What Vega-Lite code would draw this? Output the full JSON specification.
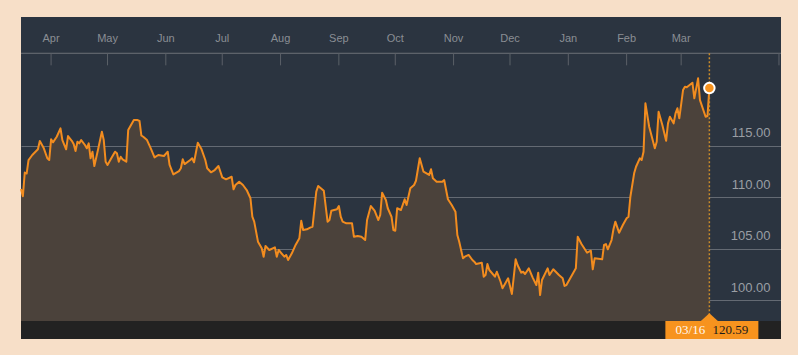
{
  "$schema": "https://vega.github.io/schema/vega-lite/v6.json",
  "width": 760,
  "height": 322,
  "autosize": {"type": "none"},
  "padding": {"left": 21, "top": 17, "right": 17, "bottom": 16},
  "background": "#f7dfc8",
  "config": {
    "view": {"fill": "#2b3440", "stroke": null},
    "axisY": {
      "orient": "right", "format": ".2f", "title": null,
      "domain": false, "ticks": false, "grid": true,
      "gridColor": "#ffffff", "gridOpacity": 0.27, "gridWidth": 1,
      "labelAlign": "right", "labelBaseline": "middle", "labelPadding": -11, "labelOffset": -13,
      "labelColor": "#9a9ea4", "labelFont": "Liberation Sans", "labelFontSize": 13, "zindex": 1
    }
  },
  "datasets": {
    "prices": [
      {"date": "2015-03-16", "price": 110.8},
      {"date": "2015-03-17", "price": 110.1},
      {"date": "2015-03-18", "price": 112.4},
      {"date": "2015-03-19", "price": 112.3},
      {"date": "2015-03-20", "price": 113.6},
      {"date": "2015-03-22", "price": 114.1},
      {"date": "2015-03-25", "price": 114.65},
      {"date": "2015-03-26", "price": 115.46},
      {"date": "2015-03-28", "price": 114.81},
      {"date": "2015-03-30", "price": 113.78},
      {"date": "2015-03-31", "price": 113.61},
      {"date": "2015-04-01", "price": 115.62},
      {"date": "2015-04-02", "price": 115.33},
      {"date": "2015-04-04", "price": 115.87},
      {"date": "2015-04-06", "price": 116.69},
      {"date": "2015-04-07", "price": 115.55},
      {"date": "2015-04-09", "price": 114.65},
      {"date": "2015-04-10", "price": 115.94},
      {"date": "2015-04-12", "price": 115.48},
      {"date": "2015-04-13", "price": 115.16},
      {"date": "2015-04-14", "price": 114.49},
      {"date": "2015-04-15", "price": 115.39},
      {"date": "2015-04-16", "price": 115.23},
      {"date": "2015-04-17", "price": 115.55},
      {"date": "2015-04-19", "price": 115.07},
      {"date": "2015-04-20", "price": 114.75},
      {"date": "2015-04-21", "price": 115.23},
      {"date": "2015-04-22", "price": 113.78},
      {"date": "2015-04-23", "price": 114.42},
      {"date": "2015-04-24", "price": 113.03},
      {"date": "2015-04-26", "price": 114.65},
      {"date": "2015-04-28", "price": 116.36},
      {"date": "2015-04-29", "price": 115.55},
      {"date": "2015-04-30", "price": 113.45},
      {"date": "2015-05-01", "price": 113.13},
      {"date": "2015-05-03", "price": 113.78},
      {"date": "2015-05-05", "price": 114.42},
      {"date": "2015-05-06", "price": 114.26},
      {"date": "2015-05-07", "price": 113.45},
      {"date": "2015-05-08", "price": 113.93},
      {"date": "2015-05-09", "price": 113.68},
      {"date": "2015-05-11", "price": 113.45},
      {"date": "2015-05-12", "price": 116.52},
      {"date": "2015-05-15", "price": 117.49},
      {"date": "2015-05-17", "price": 117.49},
      {"date": "2015-05-18", "price": 117.4},
      {"date": "2015-05-19", "price": 115.99},
      {"date": "2015-05-20", "price": 115.87},
      {"date": "2015-05-22", "price": 115.55},
      {"date": "2015-05-24", "price": 114.75},
      {"date": "2015-05-26", "price": 113.87},
      {"date": "2015-05-28", "price": 114.1},
      {"date": "2015-05-31", "price": 114.0},
      {"date": "2015-06-02", "price": 114.42},
      {"date": "2015-06-03", "price": 113.13},
      {"date": "2015-06-05", "price": 112.22},
      {"date": "2015-06-08", "price": 112.54},
      {"date": "2015-06-09", "price": 112.81},
      {"date": "2015-06-10", "price": 113.68},
      {"date": "2015-06-11", "price": 113.22},
      {"date": "2015-06-14", "price": 113.61},
      {"date": "2015-06-15", "price": 113.78},
      {"date": "2015-06-16", "price": 113.39},
      {"date": "2015-06-18", "price": 115.29},
      {"date": "2015-06-20", "price": 114.65},
      {"date": "2015-06-22", "price": 113.61},
      {"date": "2015-06-23", "price": 112.81},
      {"date": "2015-06-25", "price": 112.42},
      {"date": "2015-06-27", "price": 112.64},
      {"date": "2015-06-29", "price": 113.03},
      {"date": "2015-07-01", "price": 111.93},
      {"date": "2015-07-03", "price": 111.74},
      {"date": "2015-07-06", "price": 111.99},
      {"date": "2015-07-07", "price": 110.77},
      {"date": "2015-07-08", "price": 111.19},
      {"date": "2015-07-10", "price": 111.51},
      {"date": "2015-07-12", "price": 111.19},
      {"date": "2015-07-14", "price": 110.7},
      {"date": "2015-07-16", "price": 109.9},
      {"date": "2015-07-17", "price": 108.11},
      {"date": "2015-07-18", "price": 107.63},
      {"date": "2015-07-20", "price": 105.69},
      {"date": "2015-07-22", "price": 105.05},
      {"date": "2015-07-23", "price": 104.23},
      {"date": "2015-07-24", "price": 105.27},
      {"date": "2015-07-26", "price": 104.88},
      {"date": "2015-07-29", "price": 105.14},
      {"date": "2015-07-30", "price": 104.23},
      {"date": "2015-07-31", "price": 104.88},
      {"date": "2015-08-03", "price": 104.23},
      {"date": "2015-08-04", "price": 104.4},
      {"date": "2015-08-05", "price": 103.91},
      {"date": "2015-08-07", "price": 104.56},
      {"date": "2015-08-09", "price": 105.37},
      {"date": "2015-08-11", "price": 106.02},
      {"date": "2015-08-12", "price": 107.72},
      {"date": "2015-08-13", "price": 106.82},
      {"date": "2015-08-15", "price": 106.89},
      {"date": "2015-08-17", "price": 107.08},
      {"date": "2015-08-18", "price": 107.14},
      {"date": "2015-08-20", "price": 110.54},
      {"date": "2015-08-21", "price": 111.09},
      {"date": "2015-08-24", "price": 110.63},
      {"date": "2015-08-26", "price": 107.63},
      {"date": "2015-08-27", "price": 107.79},
      {"date": "2015-08-28", "price": 108.69},
      {"date": "2015-08-31", "price": 108.83},
      {"date": "2015-09-01", "price": 109.15},
      {"date": "2015-09-02", "price": 108.11},
      {"date": "2015-09-03", "price": 107.63},
      {"date": "2015-09-05", "price": 107.47},
      {"date": "2015-09-08", "price": 107.47},
      {"date": "2015-09-09", "price": 106.17},
      {"date": "2015-09-11", "price": 106.24},
      {"date": "2015-09-13", "price": 106.17},
      {"date": "2015-09-15", "price": 105.85},
      {"date": "2015-09-16", "price": 107.79},
      {"date": "2015-09-18", "price": 109.15},
      {"date": "2015-09-20", "price": 108.7},
      {"date": "2015-09-22", "price": 107.79},
      {"date": "2015-09-23", "price": 108.28},
      {"date": "2015-09-24", "price": 110.44},
      {"date": "2015-09-26", "price": 109.73},
      {"date": "2015-09-27", "price": 108.93},
      {"date": "2015-09-29", "price": 108.11},
      {"date": "2015-09-30", "price": 106.82},
      {"date": "2015-10-01", "price": 106.75},
      {"date": "2015-10-02", "price": 108.93},
      {"date": "2015-10-04", "price": 108.76},
      {"date": "2015-10-06", "price": 109.8},
      {"date": "2015-10-07", "price": 109.25},
      {"date": "2015-10-09", "price": 110.87},
      {"date": "2015-10-11", "price": 111.19},
      {"date": "2015-10-12", "price": 111.6},
      {"date": "2015-10-14", "price": 113.78},
      {"date": "2015-10-15", "price": 113.13},
      {"date": "2015-10-16", "price": 112.48},
      {"date": "2015-10-19", "price": 112.16},
      {"date": "2015-10-20", "price": 112.71},
      {"date": "2015-10-21", "price": 111.84},
      {"date": "2015-10-23", "price": 111.51},
      {"date": "2015-10-26", "price": 111.51},
      {"date": "2015-10-27", "price": 111.67},
      {"date": "2015-10-29", "price": 109.8},
      {"date": "2015-10-31", "price": 109.25},
      {"date": "2015-11-02", "price": 108.6},
      {"date": "2015-11-03", "price": 106.34},
      {"date": "2015-11-04", "price": 105.69},
      {"date": "2015-11-06", "price": 104.07},
      {"date": "2015-11-07", "price": 104.23},
      {"date": "2015-11-09", "price": 104.4},
      {"date": "2015-11-11", "price": 103.91},
      {"date": "2015-11-12", "price": 103.75},
      {"date": "2015-11-13", "price": 103.52},
      {"date": "2015-11-16", "price": 103.65},
      {"date": "2015-11-17", "price": 102.29},
      {"date": "2015-11-18", "price": 102.45},
      {"date": "2015-11-19", "price": 103.52},
      {"date": "2015-11-20", "price": 102.94},
      {"date": "2015-11-23", "price": 102.29},
      {"date": "2015-11-24", "price": 102.77},
      {"date": "2015-11-26", "price": 101.8},
      {"date": "2015-11-27", "price": 101.16},
      {"date": "2015-11-28", "price": 101.48},
      {"date": "2015-11-30", "price": 102.13},
      {"date": "2015-12-02", "price": 100.61},
      {"date": "2015-12-04", "price": 103.98},
      {"date": "2015-12-05", "price": 103.42},
      {"date": "2015-12-07", "price": 102.68},
      {"date": "2015-12-08", "price": 102.77},
      {"date": "2015-12-09", "price": 102.55},
      {"date": "2015-12-11", "price": 103.1},
      {"date": "2015-12-13", "price": 102.23},
      {"date": "2015-12-15", "price": 101.48},
      {"date": "2015-12-16", "price": 102.68},
      {"date": "2015-12-17", "price": 100.51},
      {"date": "2015-12-18", "price": 101.97},
      {"date": "2015-12-21", "price": 103.1},
      {"date": "2015-12-22", "price": 102.45},
      {"date": "2015-12-24", "price": 103.01},
      {"date": "2015-12-27", "price": 102.45},
      {"date": "2015-12-29", "price": 102.13},
      {"date": "2015-12-30", "price": 101.39},
      {"date": "2015-12-31", "price": 101.48},
      {"date": "2016-01-05", "price": 103.1},
      {"date": "2016-01-06", "price": 106.17},
      {"date": "2016-01-08", "price": 105.46},
      {"date": "2016-01-11", "price": 104.62},
      {"date": "2016-01-13", "price": 104.81},
      {"date": "2016-01-14", "price": 103.01},
      {"date": "2016-01-15", "price": 104.07},
      {"date": "2016-01-19", "price": 103.98},
      {"date": "2016-01-20", "price": 105.37},
      {"date": "2016-01-21", "price": 105.46},
      {"date": "2016-01-22", "price": 104.95},
      {"date": "2016-01-24", "price": 105.85},
      {"date": "2016-01-25", "price": 106.89},
      {"date": "2016-01-26", "price": 107.63},
      {"date": "2016-01-28", "price": 106.56},
      {"date": "2016-01-30", "price": 107.31},
      {"date": "2016-02-01", "price": 107.96},
      {"date": "2016-02-02", "price": 108.11},
      {"date": "2016-02-03", "price": 110.05},
      {"date": "2016-02-05", "price": 112.32},
      {"date": "2016-02-06", "price": 112.96},
      {"date": "2016-02-08", "price": 113.78},
      {"date": "2016-02-09", "price": 113.61},
      {"date": "2016-02-10", "price": 114.42},
      {"date": "2016-02-11", "price": 119.11},
      {"date": "2016-02-13", "price": 116.84},
      {"date": "2016-02-16", "price": 114.75},
      {"date": "2016-02-17", "price": 115.39},
      {"date": "2016-02-18", "price": 118.3},
      {"date": "2016-02-20", "price": 117.01},
      {"date": "2016-02-22", "price": 115.48},
      {"date": "2016-02-23", "price": 117.17},
      {"date": "2016-02-24", "price": 117.81},
      {"date": "2016-02-26", "price": 117.17},
      {"date": "2016-02-27", "price": 118.14},
      {"date": "2016-02-28", "price": 118.63},
      {"date": "2016-02-29", "price": 117.66},
      {"date": "2016-03-02", "price": 120.4},
      {"date": "2016-03-03", "price": 120.72},
      {"date": "2016-03-04", "price": 120.67},
      {"date": "2016-03-07", "price": 121.11},
      {"date": "2016-03-08", "price": 119.6},
      {"date": "2016-03-10", "price": 121.54},
      {"date": "2016-03-11", "price": 119.43},
      {"date": "2016-03-14", "price": 117.81},
      {"date": "2016-03-15", "price": 117.88},
      {"date": "2016-03-16", "price": 120.59}
    ],
    "months": [
      {"date": "2015-04-01", "label": "Apr"},
      {"date": "2015-05-01", "label": "May"},
      {"date": "2015-06-01", "label": "Jun"},
      {"date": "2015-07-01", "label": "Jul"},
      {"date": "2015-08-01", "label": "Aug"},
      {"date": "2015-09-01", "label": "Sep"},
      {"date": "2015-10-01", "label": "Oct"},
      {"date": "2015-11-01", "label": "Nov"},
      {"date": "2015-12-01", "label": "Dec"},
      {"date": "2016-01-01", "label": "Jan"},
      {"date": "2016-02-01", "label": "Feb"},
      {"date": "2016-03-01", "label": "Mar"},
      {"date": "2016-04-22", "label": ""}
    ],
    "last": [
      {"date": "2016-03-16", "price": 120.59, "day": "03/16", "value": "120.59"}
    ]
  },
  "layer": [
    {
      "data": {"name": "prices"},
      "mark": {"type": "area", "color": "#4b423b", "opacity": 1},
      "encoding": {
        "x": {
          "field": "date", "type": "temporal", "axis": null,
          "scale": {"domain": [{"year": 2015, "month": 3, "date": 16, "utc": true}, {"year": 2016, "month": 4, "date": 23, "hours": 2, "utc": true}]}
        },
        "y": {
          "field": "price", "type": "quantitative", "title": null,
          "scale": {"domain": [96.245, 127.49], "nice": false, "zero": false},
          "axis": {"values": [100, 105, 110, 115], "format": ".2f", "title": null}
        },
        "y2": {"datum": 98}
      }
    },
    {
      "data": {"values": [{}]},
      "mark": {"type": "rule", "color": "#6c7077", "strokeWidth": 1},
      "encoding": {
        "y": {"datum": 123.97, "type": "quantitative"}
      }
    },
    {
      "data": {"name": "months"},
      "mark": {"type": "rule", "color": "#5b6067", "strokeWidth": 1},
      "encoding": {
        "x": {"field": "date", "type": "temporal", "axis": null},
        "y": {"datum": 123.97, "type": "quantitative"},
        "y2": {"datum": 122.8}
      }
    },
    {
      "data": {"name": "months"},
      "mark": {"type": "text", "color": "#8a8e94", "font": "Liberation Sans", "fontSize": 11, "align": "center", "baseline": "middle"},
      "encoding": {
        "x": {"field": "date", "type": "temporal", "axis": null},
        "y": {"datum": 125.36, "type": "quantitative"},
        "text": {"field": "label"}
      }
    },
    {
      "data": {"name": "prices"},
      "mark": {"type": "line", "color": "#f28c1f", "strokeWidth": 2, "strokeJoin": "round"},
      "encoding": {
        "x": {"field": "date", "type": "temporal", "axis": null},
        "y": {"field": "price", "type": "quantitative"}
      }
    },
    {
      "data": {"values": [{}]},
      "mark": {"type": "rect", "color": "#222222"},
      "encoding": {
        "y": {"datum": 96.245, "type": "quantitative"},
        "y2": {"datum": 98}
      }
    },
    {
      "data": {"name": "last"},
      "mark": {"type": "rule", "color": "#c98a2a", "strokeWidth": 1.5, "strokeDash": [2, 2]},
      "encoding": {
        "x": {"field": "date", "type": "temporal", "axis": null},
        "y": {"datum": 123.97, "type": "quantitative"},
        "y2": {"datum": 98}
      }
    },
    {
      "data": {"name": "last"},
      "mark": {"type": "point", "shape": "M-1,0L0,-0.9L1,0Z", "filled": true, "fill": "#f7931e", "stroke": null, "size": 289, "opacity": 1},
      "encoding": {
        "x": {"field": "date", "type": "temporal", "axis": null},
        "y": {"datum": 98, "type": "quantitative"}
      }
    },
    {
      "data": {"name": "last"},
      "mark": {"type": "rect", "color": "#f7931e", "xOffset": -44, "x2Offset": 49},
      "encoding": {
        "x": {"field": "date", "type": "temporal", "axis": null},
        "x2": {"field": "date"},
        "y": {"datum": 96.245, "type": "quantitative"},
        "y2": {"datum": 98}
      }
    },
    {
      "data": {"name": "last"},
      "mark": {"type": "text", "color": "#fff8ef", "font": "Liberation Serif", "fontSize": 13, "align": "center", "baseline": "middle", "dx": -19},
      "encoding": {
        "x": {"field": "date", "type": "temporal", "axis": null},
        "y": {"datum": 97.12, "type": "quantitative"},
        "text": {"field": "day"}
      }
    },
    {
      "data": {"name": "last"},
      "mark": {"type": "text", "color": "#1b1b1b", "font": "Liberation Serif", "fontSize": 13, "align": "center", "baseline": "middle", "dx": 21},
      "encoding": {
        "x": {"field": "date", "type": "temporal", "axis": null},
        "y": {"datum": 97.12, "type": "quantitative"},
        "text": {"field": "value"}
      }
    },
    {
      "data": {"name": "last"},
      "mark": {"type": "point", "shape": "circle", "filled": true, "fill": "#f7931e", "stroke": "#ffffff", "strokeWidth": 2, "size": 110, "opacity": 1},
      "encoding": {
        "x": {"field": "date", "type": "temporal", "axis": null},
        "y": {"field": "price", "type": "quantitative"}
      }
    }
  ]
}
